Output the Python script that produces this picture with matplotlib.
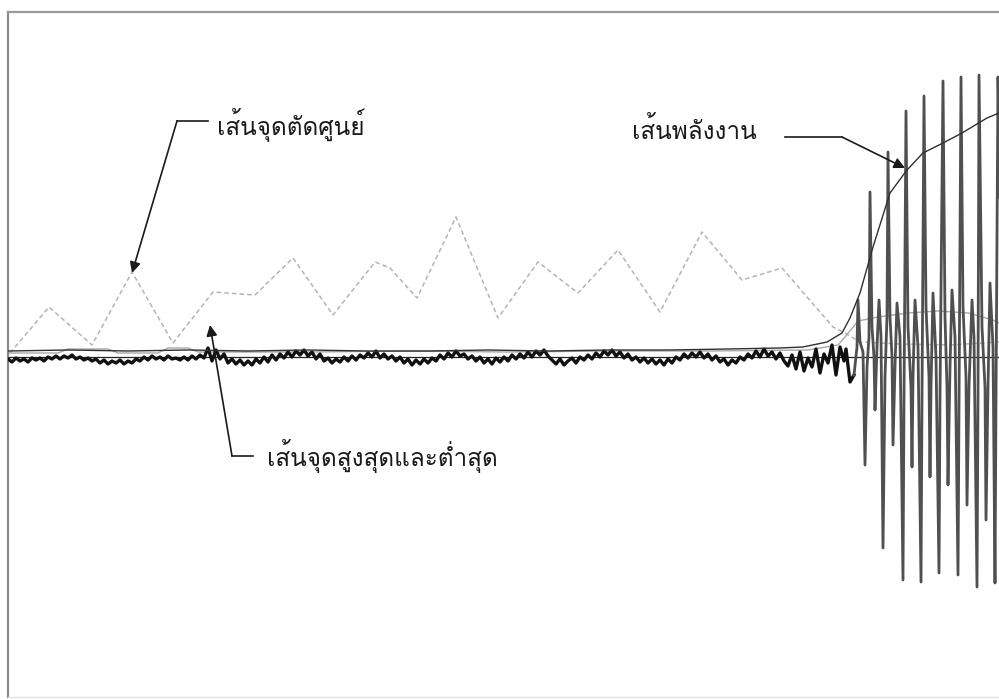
import matplotlib
matplotlib.use("Agg")
import matplotlib.pyplot as plt
from matplotlib import font_manager
from matplotlib.ft2font import FT2Font

# frame index (t) and amplitude
# noisy part of the signal, one value every 4 frames from t=0
noise_vals = [
    -2, -5, -1, -4, -2, -5, -1, -3, -1, -4, 0, -2, 1, -2, 1,
    -1, 2, -2, 0, -3, -1, -4, -2, -6, -3, -7, -4, -6, -3, -7,
    -4, -6, -2, -4, 0, -3, 1, -2, 0, -3, 1, -2, -1, -3, 0,
    -3, 1, -2, 2, -1, 9, -4, 7, -2, 3, -6, -2, -7, -3, -8,
    -4, -8, -2, -6, 0, -5, 2, -3, 3, -1, 5, 0, 6, 2, 7,
    1, 5, -2, 3, -4, -1, -6, -2, -5, 0, -4, 1, -3, 2, -1,
    4, 0, 6, -1, 3, -2, 1, -4, 0, -6, -2, -8, -3, -7, -2,
    -6, -1, -4, 2, -2, 4, 0, 6, 1, 3, -2, 1, -4, 0, -6,
    -2, -7, -1, -5, 0, -4, 2, -2, 3, -1, 5, 0, 6, 2, 7,
    1, -3, -7, -2, -8, -4, -1, -6, 0, -3, 2, -2, 4, 0, 6,
    2, 7, 1, 5, -1, 3, -3, 0, -5, -1, -6, -2, -7, -3, -8,
    -2, -6, 0, -3, 3, -1, 4, 0, 5, -1, 3, -3, 1, -5, -2,
    -8, -3, -6, 0, -3, 3, -1, 6, 0, 8, 1, 5, -2, 4, -4,
    -9, 2, -12, 5, -14, -1, -10, 8, -16, 3, -6, 12, -18, 10, -4,
]
# loud part: narrow spikes with the signal returning near zero between them
burst_t = [838, 842, 846, 849, 850, 852, 855, 857, 859, 861, 862, 864, 866, 867,
           869, 871, 873, 875, 877, 879, 880, 882, 884, 885, 887, 889, 892, 895,
           896, 898, 900, 903, 904, 905, 907, 910, 913, 914, 916, 918, 921, 922,
           923, 925, 928, 931, 932, 935, 937, 939, 940, 942, 944, 947, 950, 951,
           953, 955, 958, 959, 961, 964, 966, 969, 970, 971, 974, 977, 978, 980,
           982, 985, 987, 988, 990, 993]
burst_y = [8, -25, -18, 10, 57, 15, 5, -108, -10, 20, 165, 30, 0, -53,
           10, 57, 20, -191, -20, 40, 205, 40, 0, -88, -10, 54, 20, -223,
           -40, 246, 30, -30, -110, -20, 57, 10, -225, -40, 261, 50, -20, -120,
           -30, 64, 0, -216, -40, 276, 40, -30, -128, -10, 67, 20, -218, -50,
           280, 50, -20, -148, -30, 57, 20, -230, -40, 282, 30, -30, -163, -30,
           74, 10, -226, -40, 280, 100]

# zero crossing line
zc_t = [2, 41, 84, 124, 165, 205, 247, 285, 325, 367, 382, 409, 448, 490, 530,
        570, 610, 652, 694, 734, 774, 825, 837, 852, 892, 942, 991]
zc_y = [4, 50, 12, 85, 14, 65, 62, 99, 42, 95, 89, 59, 140, 39, 95,
        64, 107, 45, 125, 77, 89, 30, 24, 15, 13, 12, 15]

# energy line
en_t = [0, 60, 120, 180, 240, 300, 360, 420, 480, 540, 600, 660, 720, 772, 795,
        819, 834, 842, 852, 865, 882, 899, 915, 935, 954, 979, 991]
en_y = [6, 7, 6, 7, 6, 7, 6, 6, 7, 6, 7, 7, 8, 9, 10,
        15, 24, 39, 64, 110, 164, 187, 204, 214, 224, 239, 244]

# max / min points line
mm_t = [0, 50, 60, 100, 110, 150, 160, 180, 190, 300, 400, 500, 600, 700, 800,
        830, 837, 850, 870, 900, 930, 960, 985, 991]
mm_y = [4, 4, 8, 8, 4, 4, 9, 9, 5, 5, 6, 5, 6, 6, 7,
        12, 20, 36, 40, 44, 46, 44, 37, 34]

labels = ["เส้นจุดตัดศูนย์", "เส้นพลังงาน", "เส้นจุดสูงสุดและต่ำสุด"]


def thai_font():
    for f in font_manager.fontManager.ttflist:
        try:
            if ord("ส") in FT2Font(f.fname).get_charmap():
                return f.name
        except Exception:
            pass
    return "DejaVu Sans"


fam = [thai_font(), "DejaVu Sans"]

noise_t = [4 * i for i in range(len(noise_vals))]

fig = plt.figure(figsize=(9.99, 6.99), dpi=100)
ax = fig.add_axes([8 / 999, 2 / 699, 991 / 999, 685 / 699])
ax.set_xlim(0, 991)
ax.set_ylim(-340, 345)
ax.set_xticks([])
ax.set_yticks([])
ax.spines["right"].set_visible(False)
ax.spines["left"].set_color("#8a8a8a")
ax.spines["left"].set_linewidth(1.6)
ax.spines["top"].set_color("#9a9a9a")
ax.spines["top"].set_linewidth(1.6)
ax.spines["bottom"].set_color("#e4e4e4")
ax.spines["bottom"].set_linewidth(1.0)

ax.axhline(0, color="#222222", lw=0.9, zorder=1)
ax.plot(zc_t, zc_y, color="#b4b4b4", lw=1.1, ls=(0, (3, 2)), zorder=2)
ax.plot(mm_t, mm_y, color="#a8a8a8", lw=1.0, zorder=2)
ax.plot(noise_t + burst_t[:3], noise_vals + burst_y[:3], color="#111111", lw=2.4, zorder=3)
ax.plot(burst_t[2:], burst_y[2:], color="#505050", lw=2.0, zorder=3)
ax.plot(en_t, en_y, color="#303030", lw=1.0, zorder=4)

# annotations: bent leader lines with an arrow on the last leg
arrows = [
    ([200, 169], [236, 236], (124, 84)),
    ([777, 834], [220, 220], (897, 189)),
    ([245, 224], [-99, -99], (202, 32)),
]
for xs, ys, tip in arrows:
    ax.plot(xs, ys, color="#1a1a1a", lw=1.2, zorder=5)
    ax.annotate("", xy=tip, xytext=(xs[-1], ys[-1]),
                arrowprops=dict(arrowstyle="-|>", color="#1a1a1a", lw=1.2,
                                mutation_scale=16, shrinkA=0, shrinkB=0),
                zorder=5)

ax.text(209, 232, labels[0], fontsize=17.5, family=fam, va="center", ha="left", color="#1a1a1a")
ax.text(624, 227, labels[1], fontsize=17.5, family=fam, va="center", ha="left", color="#1a1a1a")
ax.text(259, -99, labels[2], fontsize=17.5, family=fam, va="center", ha="left", color="#1a1a1a")

fig.savefig("out.png", dpi=100, facecolor="white")
